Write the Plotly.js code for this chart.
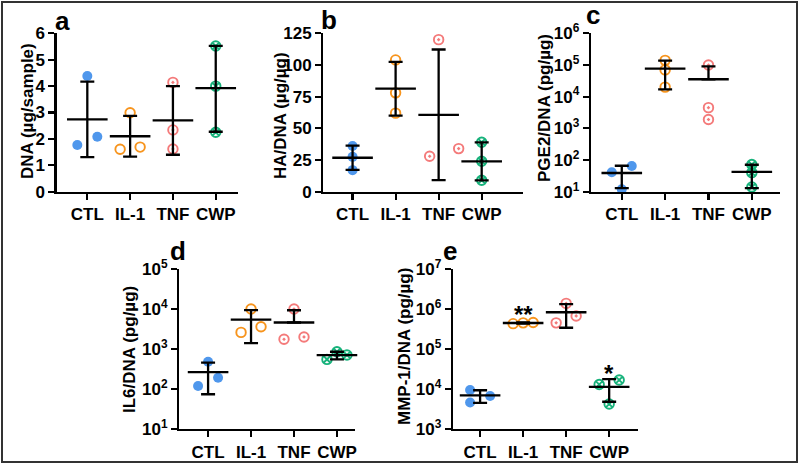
<!DOCTYPE html>
<html><head><meta charset="utf-8">
<script src="https://cdn.plot.ly/plotly-3.0.1.min.js"></script>
<style>html,body{margin:0;padding:0;background:#fff}#chart{width:800px;height:466px}</style>
</head><body><div id="chart"></div>
<script>
const categories = ['CTL', 'IL-1', 'TNF', 'CWP'];

// a: DNA (µg/sample)
const dnaPoints = [[4.38, 1.77, 2.08], [2.99, 1.61, 1.69], [4.14, 2.34, 1.62], [5.52, 4.00, 2.25]];
const dnaMean  = [2.74, 2.10, 2.70, 3.92];
const dnaUpper = [4.17, 2.87, 4.00, 5.52];
const dnaLower = [1.31, 1.33, 1.40, 2.27];

// b: HA/DNA (µg/µg)
const haPoints = [[36, 27.5, 17], [104, 78, 62], [120, 28, 34], [39, 24, 9]];
const haMean  = [26.8, 81.3, 60.7, 24];
const haUpper = [36.3, 102.5, 112.2, 39];
const haLower = [17.3, 60.1, 9.2, 9];

// c: PGE2/DNA (pg/µg)
const pgePoints = [[41, 65, 12], [1.4e5, 7.0e4, 2.0e4], [1.0e5, 4.5e3, 1.9e3], [72, 40, 14]];
const pgeMean  = [39, 7.7e4, 3.55e4, 42];
const pgeUpper = [66, 1.37e5, 9.1e4, 71];
const pgeLower = [13, 1.7e4, null, 13];

// d: IL6/DNA (pg/µg)
const il6Points = [[480, 119, 192], [1.0e4, 2.6e3, 3.6e3], [1.0e4, 1.75e3, 2.0e3], [550, 850, 710]];
const il6Mean  = [264, 5.4e3, 4.6e3, 703];
const il6Upper = [454, 9.4e3, 9.3e3, 853];
const il6Lower = [74, 1.4e3, null, 553];

// e: MMP-1/DNA (pg/µg)
const mmpPoints = [[9.4e3, 4.6e3, 6.7e3], [4.3e5, 4.5e5, 4.6e5], [1.38e6, 4.5e5, 6.7e5], [1.3e4, 1.68e4, 4.2e3]];
const mmpMean  = [6.9e3, 4.47e5, 8.3e5, 1.13e4];
const mmpUpper = [9.3e3, 4.62e5, 1.32e6, 1.77e4];
const mmpLower = [4.5e3, 4.32e5, 3.4e5, 4.8e3];

const linTicksA = ['0', '1', '2', '3', '4', '5', '6'];
const linTicksB = ['0', '25', '50', '75', '100', '125'];

// ---------- styling / layout (not data) ----------
const W = 800, H = 466;
const FONT = '"Liberation Sans", Arial, Helvetica, sans-serif';
const colors = ['#4f97ec', '#f7941d', '#f47a7a', '#17b27b'];
const symbols = ['circle', 'circle-open', 'circle-open-dot', 'circle-x-open'];
const px = v => v / W, py = v => 1 - v / H;
const b = s => '<b>' + s + '</b>';

const panels = [
  {letter: 'a', pts: dnaPoints, mean: dnaMean, up: dnaUpper, lo: dnaLower, log: false,
   xd: [56.7, 238], yd: [33.3, 191.7], xr: [-0.715, 3.52], yr: [0, 6], spacing: 42.8,
   tv: [0, 1, 2, 3, 4, 5, 6], tt: linTicksA,
   jit: [[0, -10, 10], [0, -10, 10], [0, 0, 0], [0, 0, 0]],
   title: 'DNA (µg/sample)', tx: 27, ty: 111, lx: 62, ly: 21},
  {letter: 'b', pts: haPoints, mean: haMean, up: haUpper, lo: haLower, log: false,
   xd: [323.3, 523], yd: [33.3, 191.7], xr: [-0.68, 3.96], yr: [0, 125], spacing: 43,
   tv: [0, 25, 50, 75, 100, 125], tt: linTicksB,
   jit: [[0, 0, 0], [0, 0, 0], [0, -9, 20], [0, 0, 0]],
   title: 'HA/DNA (µg/µg)', tx: 280, ty: 116, lx: 329, ly: 20},
  {letter: 'c', pts: pgePoints, mean: pgeMean, up: pgeUpper, lo: pgeLower, log: true,
   xd: [591, 780], yd: [33.3, 191.7], xr: [-0.71, 3.65], yr: [1, 6], spacing: 43.4,
   jit: [[-10, 10, 0], [0, 0, 0], [0, 0, 0], [0, 0, 0]],
   title: 'PGE2/DNA (pg/µg)', tx: 544, ty: 108, lx: 593, ly: 15},
  {letter: 'd', pts: il6Points, mean: il6Mean, up: il6Upper, lo: il6Lower, log: true,
   xd: [179.3, 355], yd: [269, 429], xr: [-0.67, 3.42], yr: [1, 5], spacing: 43,
   jit: [[0, -10, 10], [0, -10, 10], [0, -10, 10], [-10, 0, 10]],
   title: 'IL6/DNA (pg/µg)', tx: 129, ty: 350, lx: 178, ly: 251},
  {letter: 'e', pts: mmpPoints, mean: mmpMean, up: mmpUpper, lo: mmpLower, log: true,
   xd: [453, 638], yd: [269, 429], xr: [-0.63, 3.67], yr: [3, 7], spacing: 43,
   jit: [[-10, -10, 10], [-10, 0, 10], [0, -10, 10], [-10, 10, 0]],
   title: 'MMP-1/DNA (pg/µg)', tx: 404, ty: 347, lx: 450, ly: 251}
];

const data = [];
const layout = {
  width: W, height: H, margin: {l: 0, r: 0, t: 0, b: 0},
  paper_bgcolor: '#fff', plot_bgcolor: 'rgba(0,0,0,0)', showlegend: false,
  font: {family: FONT, color: '#000'},
  annotations: [], shapes: []
};

panels.forEach((p, i) => {
  const n = i + 1;
  const xa = 'x' + (n === 1 ? '' : n), ya = 'y' + (n === 1 ? '' : n);
  const xk = 'xaxis' + (n === 1 ? '' : n), yk = 'yaxis' + (n === 1 ? '' : n);
  const tickFont = {family: FONT, size: 17, color: '#000'};
  layout[xk] = {
    domain: [px(p.xd[0]), px(p.xd[1])], range: p.xr, anchor: ya,
    showline: true, linewidth: 2.3, linecolor: '#000', showgrid: false, zeroline: false,
    ticks: 'outside', ticklen: 6, tickwidth: 2.2, tickcolor: '#000',
    tickmode: 'array', tickvals: [0, 1, 2, 3], ticktext: categories.map(b),
    tickfont: tickFont, fixedrange: true
  };
  const yax = {
    domain: [py(p.yd[1]), py(p.yd[0])], range: p.yr, anchor: xa,
    showline: true, linewidth: 2.3, linecolor: '#000', showgrid: false, zeroline: false,
    ticks: 'outside', ticklen: 6, tickwidth: 2.2, tickcolor: '#000',
    tickfont: tickFont, fixedrange: true
  };
  if (p.log) {
    yax.type = 'log';
    const tv = [], tt = [];
    for (let e = p.yr[0]; e <= p.yr[1]; e++) {
      tv.push(Math.pow(10, e));
      tt.push(b('10<sup>' + e + '</sup>'));
      // minor ticks 2..9 × 10^e, placed on the axis' own log scale (shape coords are log10 on log axes)
      if (e < p.yr[1]) for (let k = 2; k <= 9; k++) {
        const lv = Math.log10(k * Math.pow(10, e));
        layout.shapes.push({type: 'line', xref: 'paper', yref: ya,
          x0: px(p.xd[0] - 4), x1: px(p.xd[0]), y0: lv, y1: lv,
          line: {color: '#000', width: 1.3}, layer: 'above'});
      }
    }
    yax.tickmode = 'array'; yax.tickvals = tv; yax.ticktext = tt;
  } else {
    yax.tickmode = 'array'; yax.tickvals = p.tv; yax.ticktext = p.tt.map(b);
  }
  layout[yk] = yax;

  // points
  p.pts.forEach((vals, g) => {
    const xs = vals.map((v, k) => g + p.jit[g][k] / p.spacing);
    const filled = symbols[g] === 'circle';
    data.push({
      type: 'scatter', mode: 'markers', x: xs, y: vals, xaxis: xa, yaxis: ya,
      cliponaxis: false, hoverinfo: 'skip',
      marker: {symbol: symbols[g], size: filled ? 10 : 9.5, color: colors[g],
               line: {color: colors[g], width: filled ? 0 : 1.9}}
    });
  });
  // mean ± SD
  data.push({
    type: 'scatter', mode: 'markers', x: [0, 1, 2, 3], y: p.mean, xaxis: xa, yaxis: ya,
    cliponaxis: false, hoverinfo: 'skip',
    marker: {symbol: 'line-ew', size: 29, color: '#000', line: {color: '#000', width: 2.3}},
    error_y: {type: 'data', symmetric: false,
      array: p.up.map((u, g) => u - p.mean[g]),
      arrayminus: p.lo.map((l, g) => l === null ? 0 : p.mean[g] - l),
      width: 7, thickness: 2.3, color: '#000'}
  });

  layout.annotations.push({
    xref: 'paper', yref: 'paper', x: px(p.tx), y: py(p.ty), xanchor: 'center', yanchor: 'middle',
    text: b(p.title), textangle: -90, showarrow: false,
    font: {family: FONT, size: 17, color: '#000'}
  });
  layout.annotations.push({
    xref: 'paper', yref: 'paper', x: px(p.lx), y: py(p.ly), xanchor: 'center', yanchor: 'middle',
    text: b(p.letter), showarrow: false,
    font: {family: FONT, size: 26, color: '#000'}
  });
});

// significance marks on panel e
layout.annotations.push({xref: 'x5', yref: 'paper', x: 1, y: py(314), xanchor: 'center', yanchor: 'middle',
  text: b('**'), showarrow: false, font: {family: FONT, size: 24, color: '#000'}});
layout.annotations.push({xref: 'x5', yref: 'paper', x: 3, y: py(373), xanchor: 'center', yanchor: 'middle',
  text: b('*'), showarrow: false, font: {family: FONT, size: 24, color: '#000'}});

// outer frame
layout.shapes.push({type: 'rect', xref: 'paper', yref: 'paper',
  x0: px(2), x1: px(797), y0: py(462), y1: py(2), line: {color: '#333', width: 2}});

Plotly.newPlot('chart', data, layout, {staticPlot: true, displayModeBar: false});
</script></body></html>
